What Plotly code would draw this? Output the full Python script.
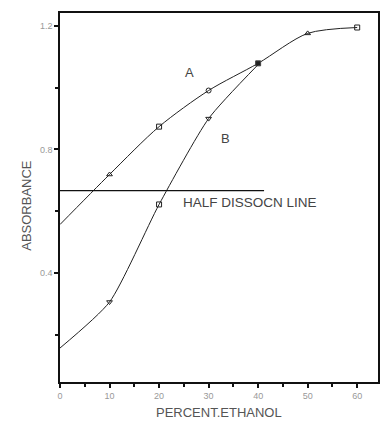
import plotly.graph_objects as go

# Data
x_a = [0, 10, 20, 30, 40, 50, 60]
y_a = [0.557, 0.719, 0.874, 0.991, 1.079, 1.176, 1.195]
x_b = [0, 10, 20, 30, 40]
y_b = [0.157, 0.306, 0.622, 0.900, 1.075]
half_x = [0, 41.2]
half_y = [0.667, 0.667]

fig = go.Figure()
fig.add_trace(go.Scatter(x=x_a, y=y_a, mode="lines", line=dict(color="#222", width=1, shape="spline", smoothing=0.8), showlegend=False))
fig.add_trace(go.Scatter(x=x_a[1:], y=y_a[1:], mode="markers",
                         marker=dict(symbol=["triangle-up-open", "square-open", "circle-open", "square", "triangle-up-open", "square-open"],
                                     size=5, color="#222", line=dict(width=1)), showlegend=False))
fig.add_trace(go.Scatter(x=x_b, y=y_b, mode="lines", line=dict(color="#222", width=1, shape="spline", smoothing=0.6), showlegend=False))
fig.add_trace(go.Scatter(x=x_b[1:4], y=y_b[1:4], mode="markers",
                         marker=dict(symbol=["triangle-down-open", "square-open", "triangle-down-open"],
                                     size=5, color="#222", line=dict(width=1)), showlegend=False))
fig.add_trace(go.Scatter(x=half_x, y=half_y, mode="lines", line=dict(color="#111", width=1.3), showlegend=False))

font = "Liberation Sans, Arial, sans-serif"
fig.add_annotation(x=26.1, y=1.048, text="A", showarrow=False, font=dict(family=font, size=13, color="#444"))
fig.add_annotation(x=33.5, y=0.834, text="B", showarrow=False, font=dict(family=font, size=13, color="#444"))
fig.add_annotation(x=24.4, y=0.627, text="HALF DISSOCN LINE", showarrow=False, xanchor="left",
                   font=dict(family=font, size=13.5, color="#444"))
fig.add_annotation(xref="paper", yref="paper", x=0.5, y=-0.084, yanchor="middle", text="PERCENT.ETHANOL",
                   showarrow=False, font=dict(family=font, size=13, color="#555"))
fig.add_annotation(xref="paper", yref="paper", x=-0.134, y=0.48, text="ABSORBANCE", textangle=-90,
                   showarrow=False, font=dict(family=font, size=13, color="#555"))

fig.update_xaxes(range=[0, 64.2], tick0=0, dtick=10, ticks="outside", ticklen=4, tickwidth=1.5, tickcolor="#111",
                 showline=True, linecolor="#111", linewidth=1.5, mirror=True, showgrid=False, zeroline=False,
                 tickfont=dict(family=font, size=9, color="#999"),
                 minor=dict(dtick=5, tick0=0, ticks="outside", ticklen=3, tickwidth=1.5, tickcolor="#111", showgrid=False))
fig.update_yaxes(range=[0.047, 1.242], tick0=0, dtick=0.4, tickformat=".1f", ticks="outside", ticklen=4, tickwidth=1.5, tickcolor="#111",
                 showline=True, linecolor="#111", linewidth=1.5, mirror=True, showgrid=False, zeroline=False,
                 tickfont=dict(family=font, size=9, color="#999"),
                 minor=dict(dtick=0.2, tick0=0, ticks="outside", ticklen=3, tickwidth=1.5, tickcolor="#111", showgrid=False))
fig.update_layout(width=382, height=423, margin=dict(l=60, r=2, t=13, b=41),
                  plot_bgcolor="white", paper_bgcolor="white")
fig.write_html("out.html")
